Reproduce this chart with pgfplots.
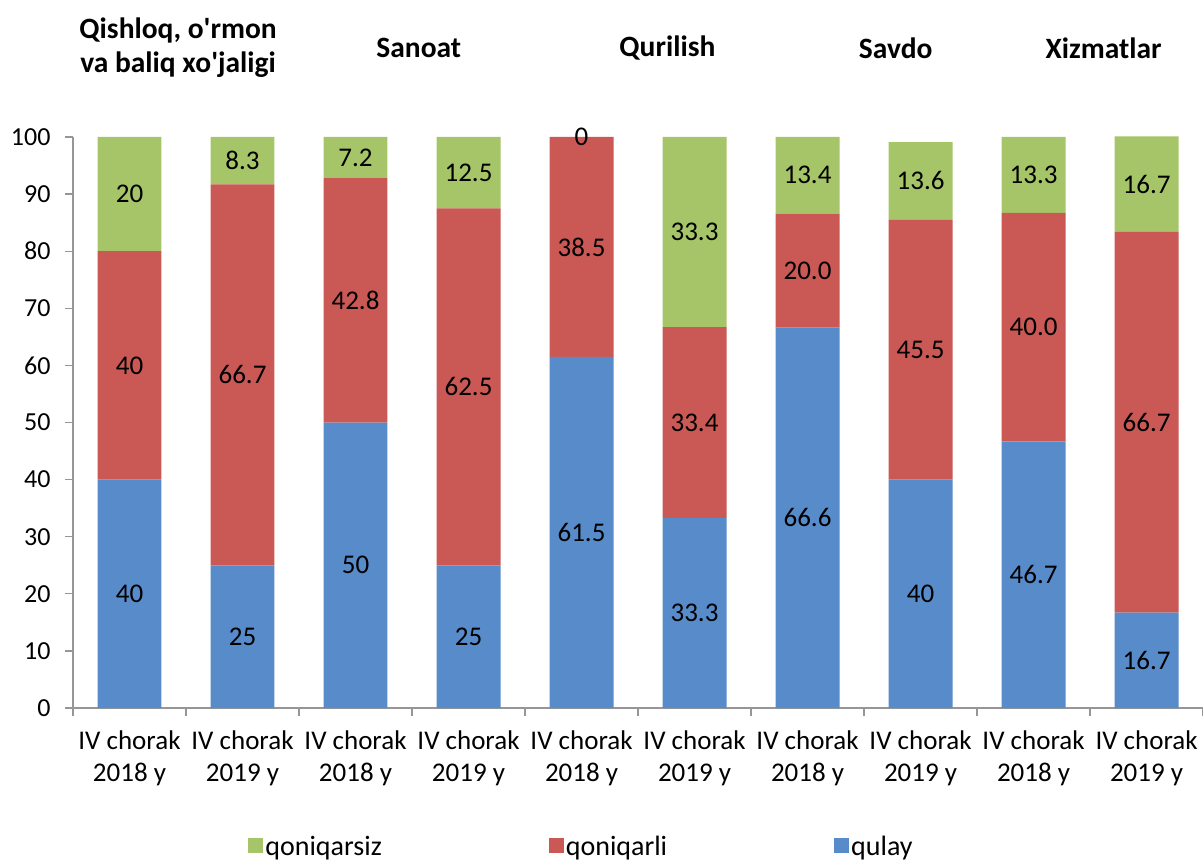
\documentclass[border=0pt]{standalone}
\usepackage{pgfplots}
\pgfplotsset{compat=1.18}
\usepackage{pgfplotstable}
\usepackage{fontspec}
\setmainfont{Carlito}
\definecolor{cblue}{RGB}{88,139,202}
\definecolor{cred}{RGB}{202,89,85}
\definecolor{cgreen}{RGB}{166,197,104}
\definecolor{caxis}{RGB}{150,150,150}
\pgfplotstableread{
x b r g
0 40 40 20
1 25 66.7 8.3
2 50 42.8 7.2
3 25 62.5 12.5
4 61.5 38.5 0
5 33.3 33.4 33.3
6 66.6 20.0 13.4
7 40 45.5 13.6
8 46.7 40.0 13.3
9 16.7 66.7 16.7
}\data
\pgfplotsset{
  common/.style={
    at={(0,0)}, anchor=south west,
    scale only axis, width=1130pt, height=571pt,
    xmin=-0.5, xmax=9.5, ymin=0, ymax=100,
    clip=false,
  },
  sqlegend/.style={legend image code/.code={\fill[##1] (0pt,-7pt) rectangle (15pt,8pt);}},
}
\newcommand{\ttl}{\bfseries\fontsize{29.5}{34}\selectfont}
\begin{document}
\begin{tikzpicture}
\begin{axis}[
  common,
  ybar stacked, bar width=0.566,
  axis x line*=bottom, axis y line*=left,
  axis line style={draw=caxis, line width=1.2pt},
  ytick={0,10,...,100},
  xtick={-0.5,0.5,...,9.5},
  xticklabels={},
  extra x ticks={0,...,9},
  extra x tick labels={IV chorak\\2018 y, IV chorak\\2019 y, IV chorak\\2018 y, IV chorak\\2019 y, IV chorak\\2018 y, IV chorak\\2019 y, IV chorak\\2018 y, IV chorak\\2019 y, IV chorak\\2018 y, IV chorak\\2019 y},
  extra x tick style={major tick length=0pt},
  tick align=outside,
  tick style={draw=caxis, line width=1.2pt},
  major tick length=8pt,
  x tick label style={align=center, font=\fontsize{27}{32}\selectfont, yshift=-19pt},
  y tick label style={font=\fontsize{26}{32}\selectfont, xshift=-11pt},
  /pgf/number format/assume math mode=true,
  reverse legend,
  legend columns=3,
  sqlegend,
  legend style={draw=none, fill=none, at={(0.45,-0.242)}, anchor=center, font=\fontsize{28}{32}\selectfont,
    /tikz/every even column/.append style={column sep=165pt}},
]
\addplot[fill=cblue, draw=none] table[x=x, y=b] {\data};
\addlegendentry{qulay}
\addplot[fill=cred, draw=none] table[x=x, y=r] {\data};
\addlegendentry{qoniqarli}
\addplot[fill=cgreen, draw=none] table[x=x, y=g] {\data};
\addlegendentry{qoniqarsiz}
\node[align=center, font=\ttl] at (axis cs:0.43,115.6) {Qishloq, o\textquotesingle rmon\\va baliq xo\textquotesingle jaligi};
\node[font=\ttl] at (axis cs:2.56,115.6) {Sanoat};
\node[font=\ttl] at (axis cs:4.76,115.6) {Qurilish};
\node[font=\ttl] at (axis cs:6.78,115.6) {Savdo};
\node[font=\ttl] at (axis cs:8.62,115.6) {Xizmatlar};
\end{axis}
\begin{axis}[
  common, hide axis,
  nodes near coords, point meta=explicit symbolic,
  nodes near coords style={anchor=center, font=\fontsize{27}{32}\selectfont, text=black},
]
\addplot[draw=none, mark=none] table[x=x, y expr=\thisrow{b}/2, meta=b] {\data};
\addplot[draw=none, mark=none] table[x=x, y expr=\thisrow{b}+\thisrow{r}/2, meta=r] {\data};
\addplot[draw=none, mark=none] table[x=x, y expr=\thisrow{b}+\thisrow{r}+\thisrow{g}/2, meta=g] {\data};
\end{axis}
\pgfresetboundingbox
\useasboundingbox (-73pt,-155pt) rectangle (1130pt,708pt);
\end{tikzpicture}
\end{document}
